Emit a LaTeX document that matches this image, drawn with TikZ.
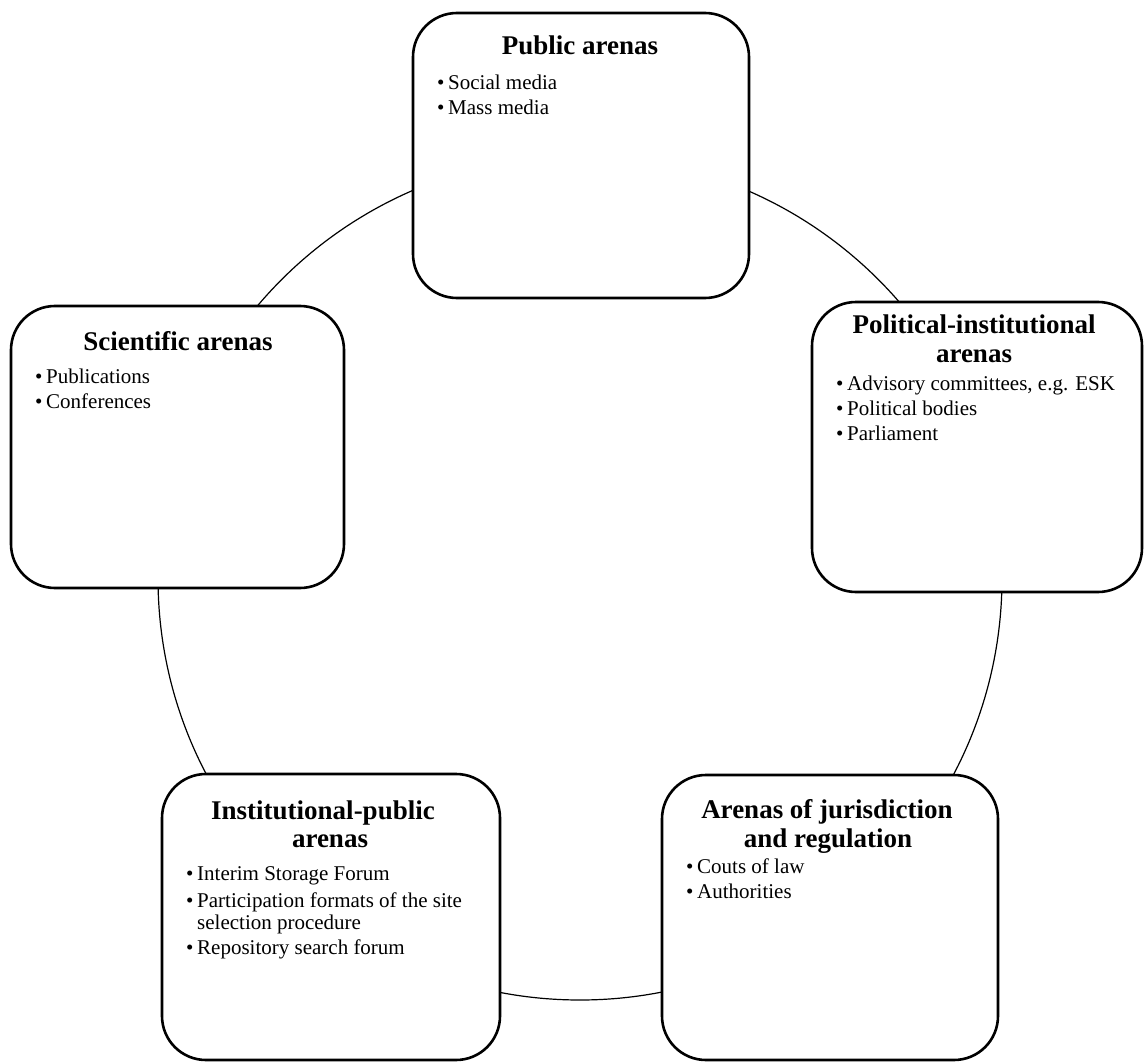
\documentclass[tikz,border=0pt]{standalone}
\usepackage{fontspec}
\setmainfont{Liberation Serif}
\begin{document}
\begin{tikzpicture}[x=1pt,y=-1pt,
  arena/.style={draw, line width=2.6pt, rounded corners=44pt, fill=white, inner sep=0pt},
  ttl/.style={font=\fontsize{27}{30}\selectfont\bfseries, anchor=base, inner sep=0pt},
  bul/.style={font=\fontsize{21}{24}\selectfont, anchor=base west, inner sep=0pt},
  ring/.style={line width=1.2pt}]
\useasboundingbox (0,0) rectangle (1144,1062);
\coordinate (ctr) at (580,578);
\draw[ring] (ctr) circle[radius=422pt];

% boxes
\node[arena, minimum width=336pt, minimum height=285pt] (pub) at (581,155.5) {};
\node[arena, minimum width=333pt, minimum height=282pt] (sci) at (177.5,447) {};
\node[arena, minimum width=330pt, minimum height=290pt] (pol) at (977,447) {};
\node[arena, minimum width=338pt, minimum height=286pt] (inst) at (331,917) {};
\node[arena, minimum width=336pt, minimum height=285pt] (jur) at (830,917.5) {};

% Public arenas
\node[ttl] (pubT) at (580,55) {Public arenas};
\node[bul] (pubb1) at (437,90) {•};
\node[bul] (pub1) at (448,90) {Social media};
\node[bul] (pubb2) at (437,115) {•};
\node[bul] (pub2) at (448,115) {Mass media};

% Scientific arenas
\node[ttl] (sciT) at (178,350) {Scientific arenas};
\node[bul] (scib1) at (35,383) {•};
\node[bul] (sci1) at (46,383) {Publications};
\node[bul] (scib2) at (35,408) {•};
\node[bul] (sci2) at (46,408) {Conferences};

% Political-institutional arenas
\node[ttl] (polT1) at (974,333) {Political-institutional};
\node[ttl] (polT2) at (974,362) {arenas};
\node[bul] (polb1) at (836,390) {•};
\node[bul] (pol1) at (847,390) {Advisory committees, e.g. ESK};
\node[bul] (polb2) at (836,415) {•};
\node[bul] (pol2) at (847,415) {Political bodies};
\node[bul] (polb3) at (836,440) {•};
\node[bul] (pol3) at (847,440) {Parliament};

% Institutional-public arenas
\node[ttl] (instT1) at (323,819) {Institutional-public};
\node[ttl] (instT2) at (330,847) {arenas};
\node[bul] (instb1) at (186,880) {•};
\node[bul] (inst1) at (197,880) {Interim Storage Forum};
\node[bul] (instb2) at (186,907) {•};
\node[bul] (inst2) at (197,907) {Participation formats of the site};
\node[bul] (inst2b) at (197,929) {selection procedure};
\node[bul] (instb3) at (186,954) {•};
\node[bul] (inst3) at (197,954) {Repository search forum};

% Arenas of jurisdiction and regulation
\node[ttl] (jurT1) at (827,818) {Arenas of jurisdiction};
\node[ttl] (jurT2) at (828,847) {and regulation};
\node[bul] (jurb1) at (686,873) {•};
\node[bul] (jur1) at (697,873) {Couts of law};
\node[bul] (jurb2) at (686,898) {•};
\node[bul] (jur2) at (697,898) {Authorities};
\end{tikzpicture}
\end{document}
